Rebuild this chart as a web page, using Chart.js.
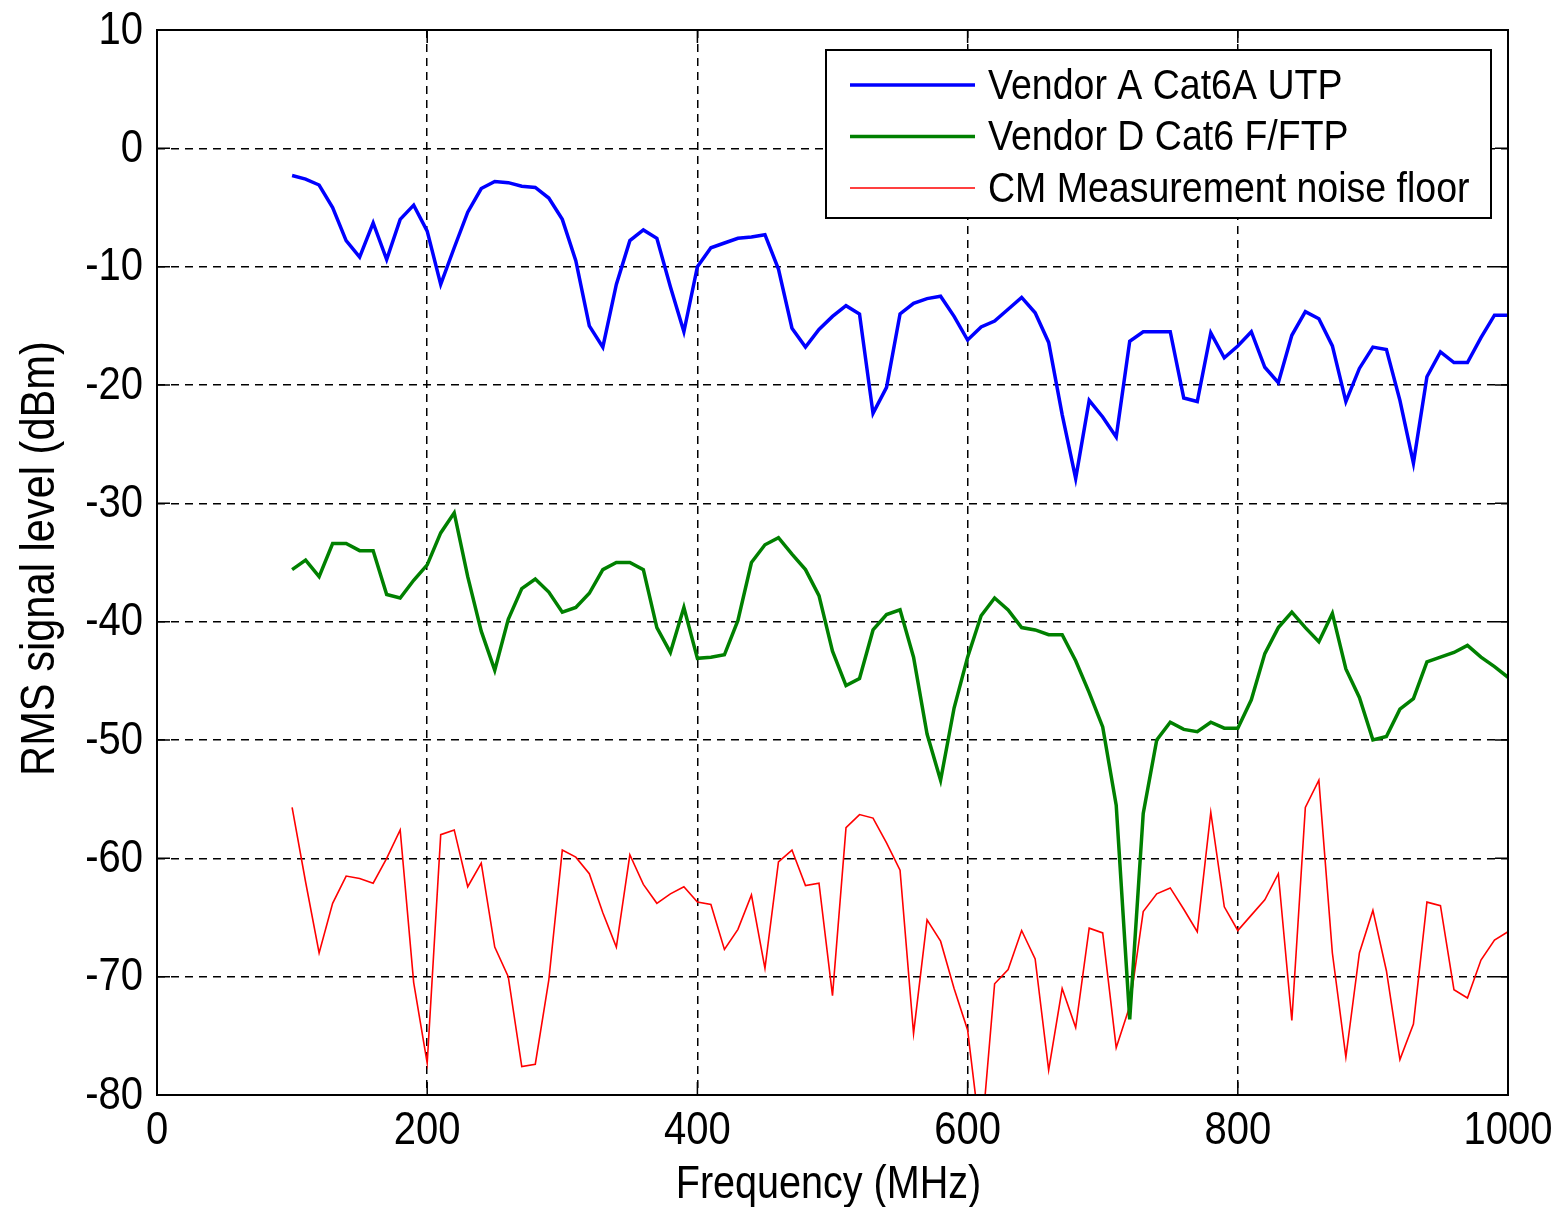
<!DOCTYPE html>
<html>
<head>
<meta charset="utf-8">
<script src="https://cdn.jsdelivr.net/npm/chart.js@4.4.1/dist/chart.umd.min.js"></script>
<style>
    body { margin: 0; background: #fff; }
    #wrap { width: 1559px; height: 1207px; }
</style>
</head>
<body>
<div id="wrap"><canvas id="rmsChart"></canvas></div>
<script>
// frequency points (MHz)
const freqMHz = [
    100, 110, 120, 130, 140, 150, 160, 170, 180, 190,
    200, 210, 220, 230, 240, 250, 260, 270, 280, 290,
    300, 310, 320, 330, 340, 350, 360, 370, 380, 390,
    400, 410, 420, 430, 440, 450, 460, 470, 480, 490,
    500, 510, 520, 530, 540, 550, 560, 570, 580, 590,
    600, 610, 620, 630, 640, 650, 660, 670, 680, 690,
    700, 710, 720, 730, 740, 750, 760, 770, 780, 790,
    800, 810, 820, 830, 840, 850, 860, 870, 880, 890,
    900, 910, 920, 930, 940, 950, 960, 970, 980, 990, 1000
];

// RMS signal level (dBm)
const vendorA = [
    -2.3, -2.6, -3.1, -5.0, -7.8, -9.2, -6.3, -9.4, -6.0, -4.8,
    -7.0, -11.5, -8.4, -5.4, -3.4, -2.8, -2.9, -3.2, -3.3, -4.2,
    -6.0, -9.5, -15.0, -16.8, -11.5, -7.8, -6.9, -7.6, -11.7, -15.5,
    -10.0, -8.4, -8.0, -7.6, -7.5, -7.3, -10.2, -15.2, -16.8, -15.3,
    -14.2, -13.3, -14.0, -22.4, -20.2, -14.0, -13.1, -12.7, -12.5, -14.2,
    -16.2, -15.1, -14.6, -13.6, -12.6, -13.9, -16.4, -22.5, -27.9, -21.3,
    -22.7, -24.4, -16.3, -15.5, -15.5, -15.5, -21.1, -21.4, -15.6, -17.7,
    -16.7, -15.5, -18.5, -19.8, -15.8, -13.8, -14.4, -16.7, -21.4, -18.6,
    -16.8, -17.0, -21.3, -26.6, -19.3, -17.2, -18.1, -18.1, -16.0, -14.1, -14.1
];

const vendorD = [
    -35.6, -34.8, -36.2, -33.4, -33.4, -34.0, -34.0, -37.7, -38.0, -36.5,
    -35.2, -32.5, -30.8, -36.2, -40.8, -44.1, -39.8, -37.2, -36.4, -37.5,
    -39.2, -38.8, -37.6, -35.6, -35.0, -35.0, -35.6, -40.5, -42.6, -38.8,
    -43.1, -43.0, -42.8, -39.9, -35.0, -33.5, -32.9, -34.3, -35.6, -37.8,
    -42.5, -45.4, -44.8, -40.7, -39.4, -39.0, -43.0, -49.5, -53.4, -47.3,
    -43.0, -39.5, -38.0, -39.0, -40.5, -40.7, -41.1, -41.1, -43.3, -46.0,
    -48.9, -55.5, -73.6, -56.2, -50.0, -48.5, -49.1, -49.3, -48.5, -49.0,
    -49.0, -46.6, -42.7, -40.5, -39.2, -40.5, -41.7, -39.3, -44.0, -46.4,
    -50.0, -49.7, -47.4, -46.5, -43.4, -43.0, -42.6, -42.0, -43.0, -43.8, -44.7
];

const noiseFloor = [
    -55.7, -62.0, -68.0, -63.8, -61.5, -61.7, -62.1, -60.0, -57.6, -70.5,
    -77.3, -58.0, -57.6, -62.4, -60.4, -67.5, -70.0, -77.6, -77.4, -70.3,
    -59.3, -59.9, -61.3, -64.6, -67.5, -59.7, -62.2, -63.8, -63.0, -62.4,
    -63.7, -63.9, -67.7, -66.0, -63.1, -69.3, -60.3, -59.3, -62.3, -62.1,
    -71.6, -57.4, -56.3, -56.6, -58.7, -61.0, -74.8, -65.2, -67.0, -71.0,
    -74.5, -84.0, -70.6, -69.4, -66.1, -68.5, -77.9, -71.0, -74.3, -65.9,
    -66.3, -76.0, -72.5, -64.5, -63.0, -62.5, -64.3, -66.2, -56.1, -64.1,
    -66.1, -64.8, -63.5, -61.3, -73.7, -55.7, -53.4, -68.0, -76.8, -68.0,
    -64.4, -69.5, -77.0, -74.0, -63.7, -64.0, -71.1, -71.8, -68.6, -66.9, -66.2
];

const seriesNames = ["Vendor A Cat6A UTP", "Vendor D Cat6 F/FTP", "CM Measurement noise floor"];
const xTicks = [0, 200, 400, 600, 800, 1000];
const yTicks = [10, 0, -10, -20, -30, -40, -50, -60, -70, -80];
const xTitle = "Frequency (MHz)";
const yTitle = "RMS signal level (dBm)";

const FONT = "'Liberation Sans', Arial, sans-serif";

function toPoints(vals) {
    return freqMHz.map((f, i) => ({ x: f, y: vals[i] }));
}

// the original text is narrow, so squeeze it horizontally
function narrowText(ctx, text, x, y, size, align, rotate, squeeze = 0.86) {
    ctx.save();
    ctx.translate(x, y);
    if (rotate) ctx.rotate(-Math.PI / 2);
    ctx.scale(squeeze, 1);
    ctx.font = size + "px " + FONT;
    ctx.fillStyle = "#000";
    ctx.textAlign = align;
    ctx.textBaseline = "middle";
    ctx.fillText(text, 0, 0);
    ctx.restore();
}

// matlab style box, inward tick marks, axis text and legend
const boxPlugin = {
    id: "boxPlugin",
    afterDraw(chart) {
        const { ctx, chartArea: a, scales } = chart;
        ctx.save();
        ctx.strokeStyle = "#000";
        ctx.lineWidth = 1.5;
        ctx.setLineDash([]);

        // tick marks
        const tl = 13;
        ctx.beginPath();
        scales.x.ticks.forEach(t => {
            const px = scales.x.getPixelForValue(t.value);
            ctx.moveTo(px, a.bottom); ctx.lineTo(px, a.bottom - tl);
            ctx.moveTo(px, a.top); ctx.lineTo(px, a.top + tl);
        });
        scales.y.ticks.forEach(t => {
            const py = scales.y.getPixelForValue(t.value);
            ctx.moveTo(a.left, py); ctx.lineTo(a.left + tl, py);
            ctx.moveTo(a.right, py); ctx.lineTo(a.right - tl, py);
        });
        ctx.stroke();

        ctx.lineWidth = 2;
        ctx.strokeRect(a.left, a.top, a.right - a.left, a.bottom - a.top);

        // tick labels and axis titles
        scales.x.ticks.forEach(t => {
            narrowText(ctx, String(t.value), scales.x.getPixelForValue(t.value), a.bottom + 36, 46.5, "center");
        });
        scales.y.ticks.forEach(t => {
            narrowText(ctx, String(t.value), a.left - 14, scales.y.getPixelForValue(t.value) + 1, 46.5, "right");
        });
        narrowText(ctx, xTitle, (a.left + a.right) / 2 - 4, a.bottom + 90, 46, "center");
        narrowText(ctx, yTitle, 41, (a.top + a.bottom) / 2 - 4, 48.4, "center", true);

        // legend
        const lx = a.right - 682, ly = a.top + 20, lw = 665, lh = 168;
        ctx.fillStyle = "#fff";
        ctx.fillRect(lx, ly, lw, lh);
        ctx.lineWidth = 2;
        ctx.strokeRect(lx, ly, lw, lh);
        chart.data.datasets.forEach((ds, i) => {
            const ry = ly + 35 + i * 51.5;
            ctx.beginPath();
            ctx.strokeStyle = ds.borderColor;
            ctx.lineWidth = ds.borderWidth;
            ctx.moveTo(lx + 24, ry);
            ctx.lineTo(lx + 149, ry);
            ctx.stroke();
            narrowText(ctx, ds.label, lx + 162, ry + 2, 42, "left", false, 0.893);
        });
        ctx.restore();
    }
};

const gridOpts = {
    color: ctx => (ctx.tick && (ctx.index === 0 || ctx.index === ctx.chart.scales[ctx.scale.id].ticks.length - 1)) ? "rgba(0,0,0,0)" : "#000",
    lineWidth: 1.5,
    drawTicks: false
};

new Chart(document.getElementById("rmsChart"), {
    type: "line",
    data: {
        datasets: [
            { label: seriesNames[0], data: toPoints(vendorA), borderColor: "#0000ff", borderWidth: 3.5 },
            { label: seriesNames[1], data: toPoints(vendorD), borderColor: "#008000", borderWidth: 3.5 },
            { label: seriesNames[2], data: toPoints(noiseFloor), borderColor: "#ff0000", borderWidth: 1.6 }
        ]
    },
    options: {
        responsive: true,
        maintainAspectRatio: false,
        animation: false,
        layout: { padding: { top: 30, right: 51, left: 0, bottom: 0 } },
        elements: { point: { radius: 0 }, line: { tension: 0 } },
        plugins: {
            legend: { display: false },
            tooltip: { enabled: false }
        },
        scales: {
            x: {
                type: "linear",
                min: 0,
                max: 1000,
                afterFit: s => { s.height = 112; s.paddingLeft = 0; s.paddingRight = 0; },
                afterBuildTicks: s => { s.ticks = xTicks.map(v => ({ value: v })); },
                grid: gridOpts,
                border: { display: false, dash: [8, 6] },
                ticks: { display: false }
            },
            y: {
                min: -80,
                max: 10,
                afterFit: s => { s.width = 157; s.paddingTop = 0; s.paddingBottom = 0; },
                afterBuildTicks: s => { s.ticks = yTicks.slice().reverse().map(v => ({ value: v })); },
                grid: gridOpts,
                border: { display: false, dash: [8, 6] },
                ticks: { display: false }
            }
        }
    },
    plugins: [boxPlugin]
});
</script>
</body>
</html>
